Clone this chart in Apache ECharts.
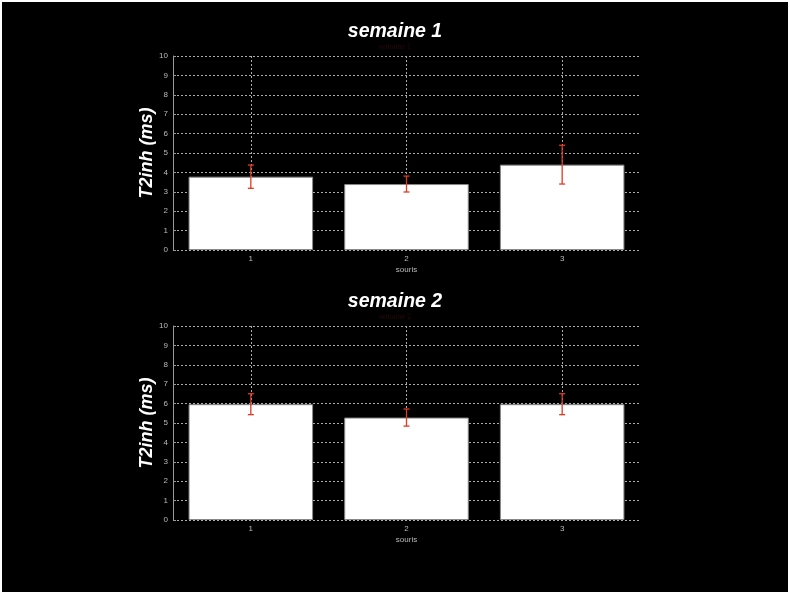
<!DOCTYPE html>
<html><head><meta charset="utf-8">
<script src="https://cdn.jsdelivr.net/npm/echarts@6/dist/echarts.min.js"></script>
<style>
html,body{margin:0;padding:0;background:#fff;}
#c{position:absolute;left:2px;top:2px;width:786px;height:590px;background:#000;}
</style></head><body>
<div id="c"></div>
<script>
const categories = ['1','2','3'];
const week1Means = [3.78, 3.40, 4.40];
const week1Err = [0.60, 0.41, 1.00];
const week2Means = [5.97, 5.28, 5.97];
const week2Err = [0.54, 0.44, 0.54];
const yTicks = [0,1,2,3,4,5,6,7,8,9,10];
const titles = ['semaine 1','semaine 2'];

const chart = echarts.init(document.getElementById('c'), null, {renderer:'canvas'});
const tops = [54, 324];
const gridH = 194;

function errSeries(idx, means, errs){
  return {
    type:'custom', xAxisIndex:idx, yAxisIndex:idx, z:5,
    data: means.map((m,i)=>[i, m-errs[i], m+errs[i]]),
    renderItem: function(params, api){
      const lo = api.coord([api.value(0), api.value(1)]);
      const hi = api.coord([api.value(0), api.value(2)]);
      const w = 3;
      const st = {stroke:'#e03a22', lineWidth:1.3};
      return {type:'group', children:[
        {type:'line', shape:{x1:lo[0],y1:lo[1],x2:hi[0],y2:hi[1]}, style:st},
        {type:'line', shape:{x1:lo[0]-w,y1:lo[1],x2:lo[0]+w,y2:lo[1]}, style:st},
        {type:'line', shape:{x1:hi[0]-w,y1:hi[1],x2:hi[0]+w,y2:hi[1]}, style:st}
      ]};
    }
  };
}

const grids=[], xAxes=[], yAxes=[], series=[], titleArr=[];
[week1Means, week2Means].forEach((means, idx)=>{
  const errs = idx===0 ? week1Err : week2Err;
  grids.push({left:171, right:148, top:tops[idx], height:gridH});
  titleArr.push({
    text: titles[idx], subtext: titles[idx], left:'center', top: tops[idx]-39, itemGap:1,
    textStyle:{color:'#fff', fontSize:19.5, fontWeight:'bold', fontStyle:'italic', fontFamily:'Liberation Sans'},
    subtextStyle:{color:'#2a0808', fontSize:8, fontFamily:'Liberation Serif'}
  });
  xAxes.push({
    type:'category', gridIndex:idx, data:categories,
    name:'souris', nameLocation:'middle', nameGap:16,
    nameTextStyle:{color:'#bbb', fontSize:8, fontFamily:'Liberation Sans'},
    axisLine:{show:false}, axisTick:{show:false},
    axisLabel:{color:'#bbb', fontSize:8, margin:5, fontFamily:'Liberation Sans'},
    splitLine:{show:false}
  });
  yAxes.push({
    type:'value', gridIndex:idx, min:0, max:10, interval:1,
    name:'T2inh (ms)', nameLocation:'middle', nameGap:17, nameMoveOverlap:false,
    nameTextStyle:{color:'#fff', fontSize:18, fontWeight:'bold', fontStyle:'italic', fontFamily:'Liberation Sans'},
    axisLine:{show:true, lineStyle:{color:'#999', width:1}},
    axisTick:{show:true, inside:true, length:3, lineStyle:{color:'#999'}},
    axisLabel:{color:'#bbb', fontSize:8, margin:5, fontFamily:'Liberation Sans'},
    splitLine:{show:true, lineStyle:{color:'#aaa', type:[2,2], width:1}}
  });
  series.push({
    type:'bar', xAxisIndex:idx, yAxisIndex:idx, data:means, barWidth:'80%', z:3,
    itemStyle:{color:'#fff', borderColor:'#888', borderWidth:1}
  });
  series.push({
    type:'line', xAxisIndex:idx, yAxisIndex:idx, data:[], z:1, silent:true,
    markLine:{silent:true, symbol:'none', label:{show:false}, z:1,
      lineStyle:{color:'#aaa', type:[2,2], width:1},
      data: categories.map(c=>({xAxis:c}))}
  });
  series.push(errSeries(idx, means, errs));
});

chart.setOption({
  backgroundColor:'#000', animation:false,
  title:titleArr, grid:grids, xAxis:xAxes, yAxis:yAxes, series:series
});
</script>
</body></html>
